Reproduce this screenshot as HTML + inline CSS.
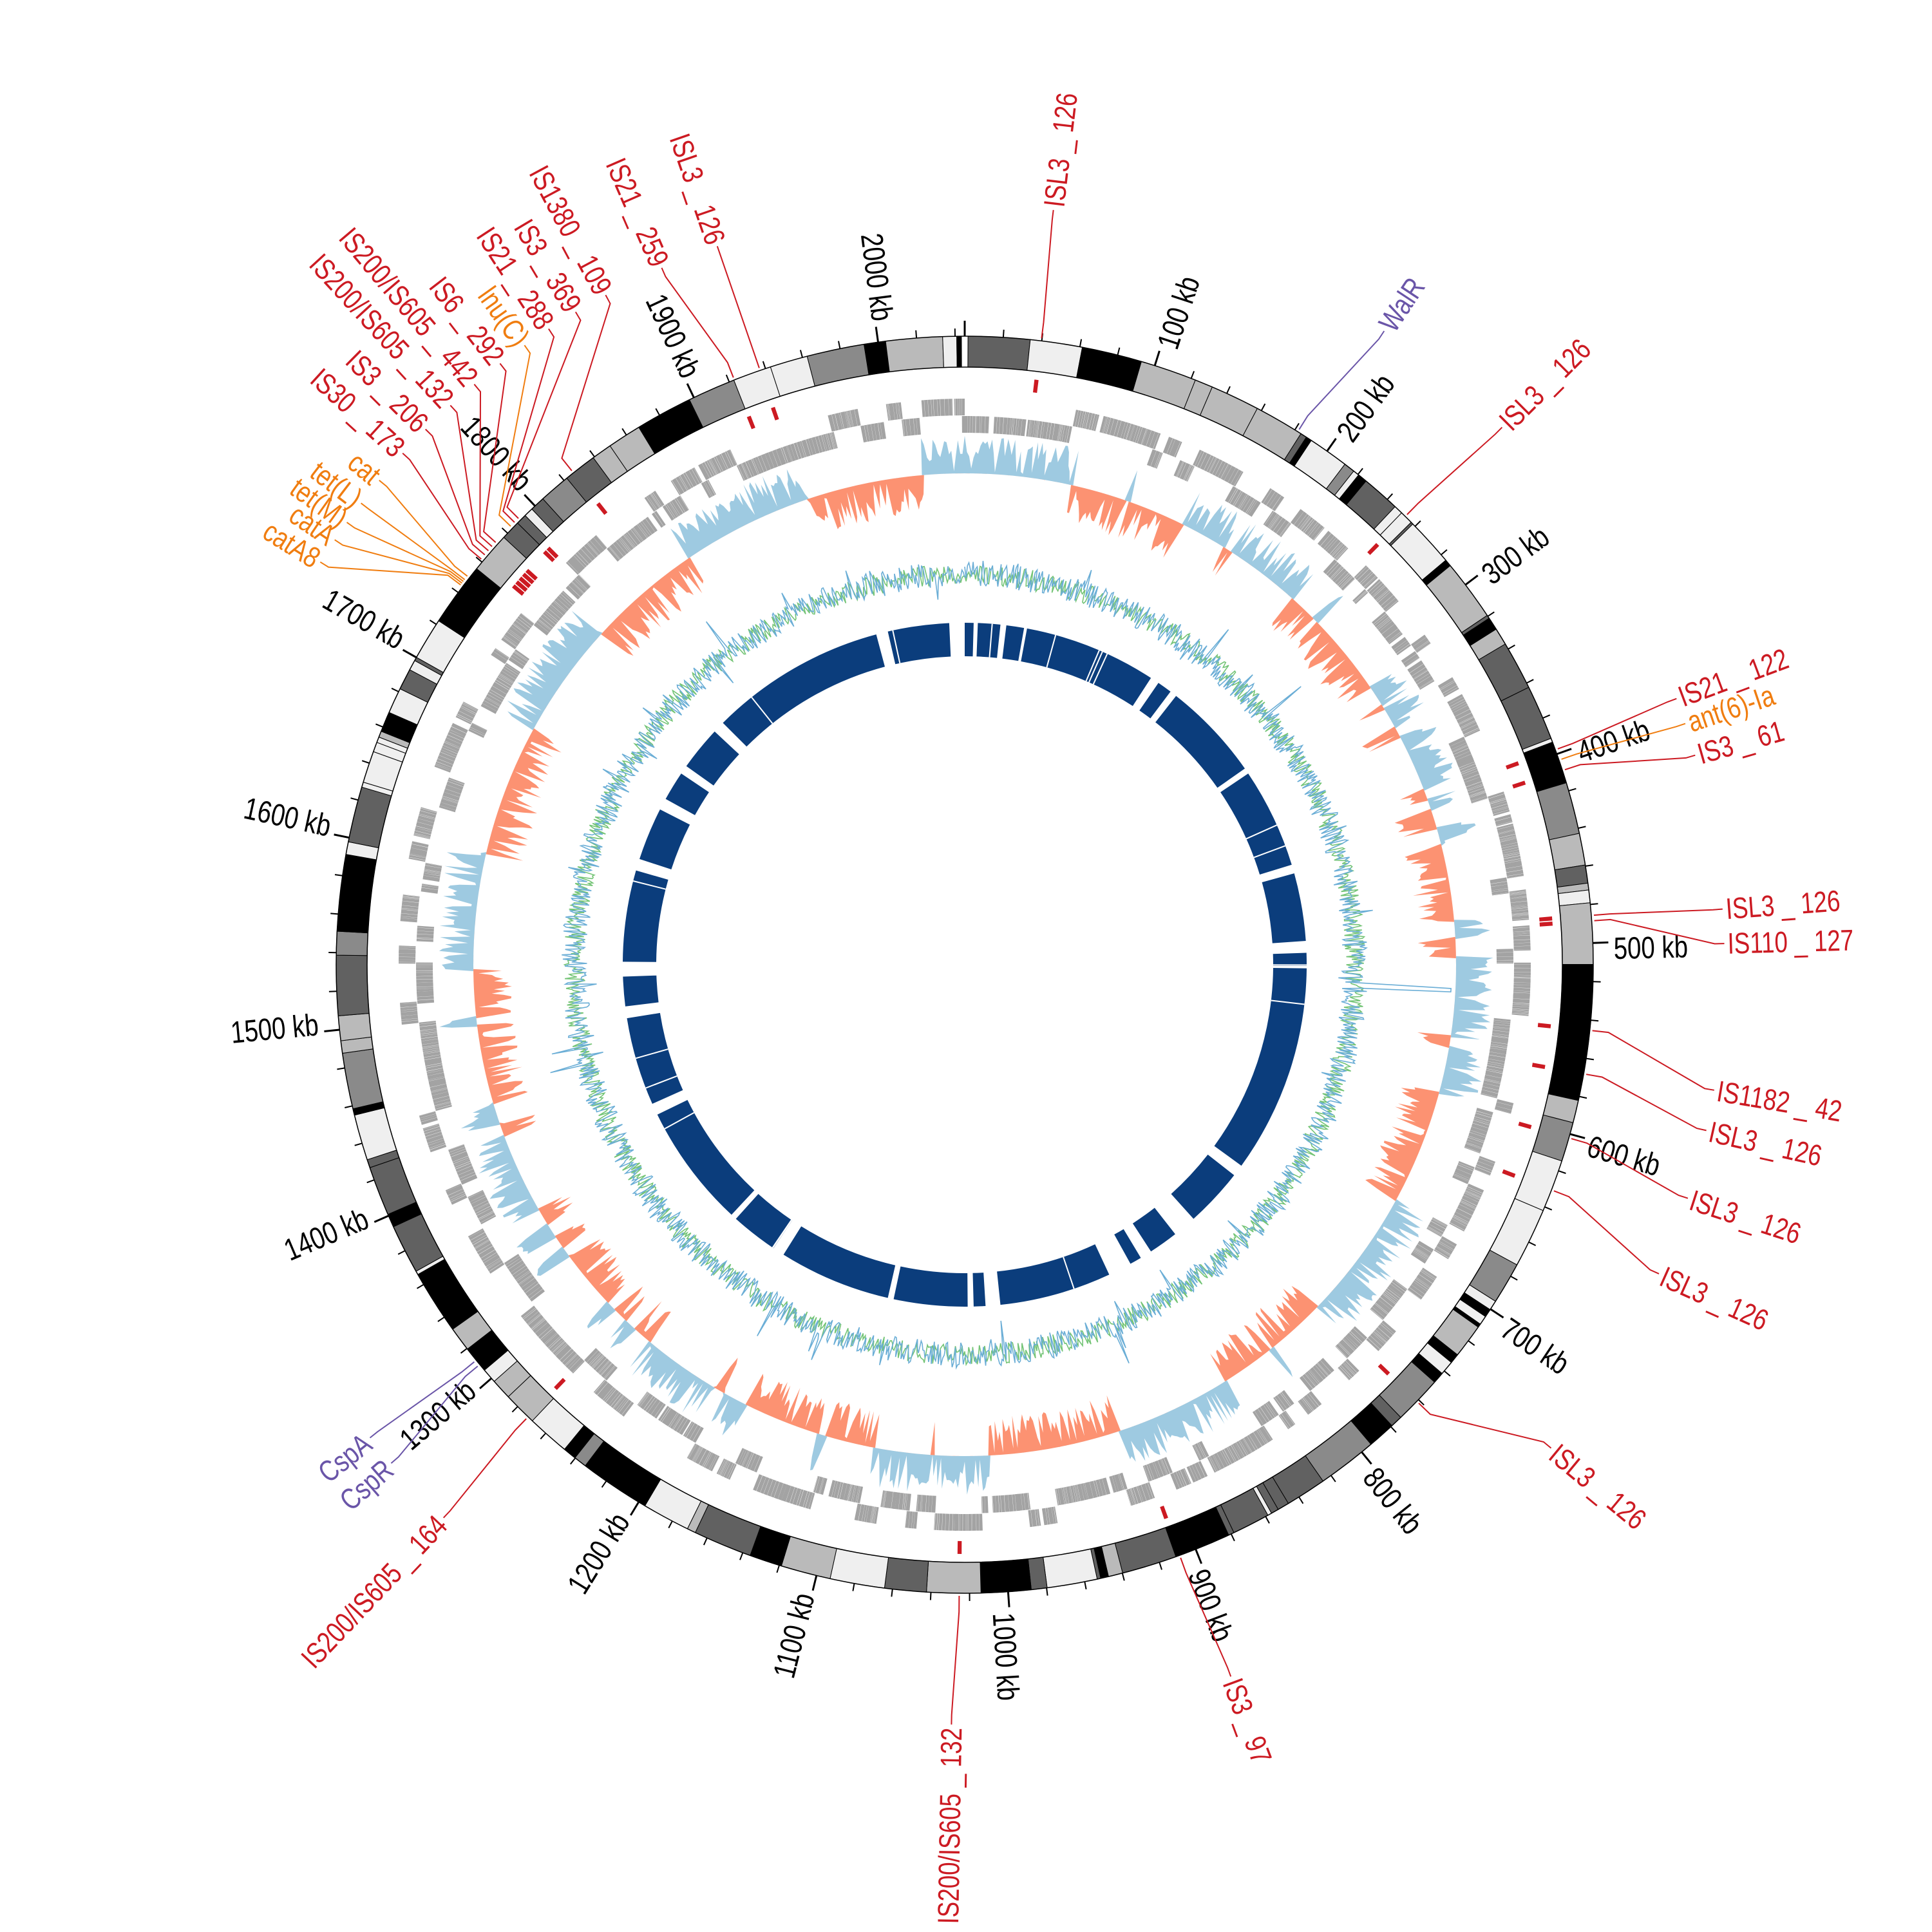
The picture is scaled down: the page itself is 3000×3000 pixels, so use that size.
<!DOCTYPE html>
<html><head><meta charset="utf-8">
<style>
html,body{margin:0;padding:0;background:#fff;}
svg{display:block;}
text{font-family:"Liberation Sans Narrow","Liberation Sans",sans-serif;}
</style></head>
<body>
<svg id="s" xmlns="http://www.w3.org/2000/svg" width="3000" height="3000" viewBox="0 0 3000 3000"></svg>
<script>
(function(){
var C=1498, T=2045;
var s=document.getElementById('s');
var out=[];
var seed=12345;
function rnd(){seed|=0;seed=seed+0x6D2B79F5|0;var t=Math.imul(seed^seed>>>15,1|seed);t=t+Math.imul(t^t>>>7,61|t)^t;return((t^t>>>14)>>>0)/4294967296;}
function P(r,a){var t=a*Math.PI/180;return [(C+r*Math.sin(t)).toFixed(1),(C-r*Math.cos(t)).toFixed(1)];}
function arc(r1,r2,a1,a2,fill,stroke,sw){
 var p1=P(r2,a1),p2=P(r2,a2),p3=P(r1,a2),p4=P(r1,a1);var lg=(a2-a1)>180?1:0;
 out.push('<path d="M'+p1+'A'+r2+','+r2+' 0 '+lg+' 1 '+p2+'L'+p3+'A'+r1+','+r1+' 0 '+lg+' 0 '+p4+'Z" fill="'+fill+'"'+(stroke?' stroke="'+stroke+'" stroke-width="'+sw+'"':'')+'/>');
}
function kb(k){return k/T*360;}
// ideogram
var shades=['#000','#616161','#bababa','#efefef','#616161','#bababa','#efefef','#8a8a8a','#000'];
var a=0.3;
while(a<359.7){var w=0.3+rnd()*5.5; if(rnd()<0.3) w=0.2+rnd()*1.2; var e=Math.min(a+w,359.7);
 arc(928,976,a,e,shades[Math.floor(rnd()*shades.length)],'#000',1); a=e;}
out.push('<circle cx="'+C+'" cy="'+C+'" r="976" fill="none" stroke="#000" stroke-width="1.5"/>');
out.push('<circle cx="'+C+'" cy="'+C+'" r="928" fill="none" stroke="#000" stroke-width="1.5"/>');
// ticks
for(var k=0;k<T;k+=20){var ang=kb(k);var maj=(k%100==0);var p1=P(976,ang),p2=P(maj?1000:988,ang);
 out.push('<line x1="'+p1[0]+'" y1="'+p1[1]+'" x2="'+p2[0]+'" y2="'+p2[1]+'" stroke="#000" stroke-width="'+(maj?3:2)+'"/>');}
function rtext(str,r,ang,color,fs){
 var p=P(r,ang);var rot,anc;
 if(ang<180){rot=ang-90;anc='start';}else{rot=ang+90;anc='end';}
 out.push('<text x="0" y="0" transform="translate('+p[0]+' '+p[1]+') rotate('+rot.toFixed(2)+') scale(0.8,1)" text-anchor="'+anc+'" dominant-baseline="central" font-size="'+fs+'" fill="'+color+'">'+str+'</text>');
}
for(var k=100;k<T;k+=100){rtext(k+' kb',1008,kb(k)+0.6,'#000',48);}
// genes: clusters of thin lines
function lanes(){var a=0;
 while(a<360){var cl=0.4+rnd()*3;var lane=rnd()<0.5?0:1;var r1=lane?853:826,r2=lane?879:852;
  var e=Math.min(a+cl,360);var b=a;var d='';
  while(b<e){var w=0.08+rnd()*0.35;var bb=Math.min(b+w,e);
   var p1=P(r2,b),p2=P(r2,bb),p3=P(r1,bb),p4=P(r1,b);d+='M'+p1+'L'+p2+'L'+p3+'L'+p4+'Z';b=bb+0.012+rnd()*0.015;}
  out.push('<path d="'+d+'" fill="#a3a3a3"/>');
  a=e+(rnd()<0.7?-0.3*rnd():rnd()*0.6);}
}
lanes();
// skew
var N=1440,vals=[];
for(var i=0;i<N;i++){var ang=i/N*360;var sgn=Math.sin(ang*0.21+0.4)+0.6*Math.sin(ang*0.67+1.3)+0.4*Math.sin(ang*1.7);
 var base=(sgn>0?1:-1);var amp=0.3+0.7*Math.pow(rnd(),0.8);if(rnd()<0.15)amp*=0.15;vals.push(base*amp);}
function areaPath(pos){var d='';for(var i=0;i<=N;i++){var v=vals[i%N];var ang=i/N*360;var vv=pos?Math.max(v,0):Math.min(v,0);var p=P(763+vv*60,ang);d+=(i?'L':'M')+p[0]+','+p[1];}
 var p0=P(763,0);d+='L'+p0+'A763,763 0 1 0 '+P(763,180)+'A763,763 0 1 0 '+p0+'Z';return d;}
out.push('<path d="'+areaPath(true)+'" fill="#9ecae1" fill-rule="evenodd"/>');
out.push('<path d="'+areaPath(false)+'" fill="#fc9272" fill-rule="evenodd"/>');
// GC lines
var M=1800,g='',bl='';
for(var i=0;i<=M;i++){var ang=i/M*360;var n1=(rnd()-0.5)*32,n2=(rnd()-0.5)*40;if(rnd()<0.04)n2+=(rnd()-0.4)*90;
 if(Math.abs(ang-93)<0.3)n2=150;
 var p=P(606+n1,ang),q=P(606+n2,ang);g+=(i?'L':'M')+p[0]+','+p[1];bl+=(i?'L':'M')+q[0]+','+q[1];}
out.push('<path d="'+g+'" fill="none" stroke="#74c476" stroke-width="1.6"/>');
out.push('<path d="'+bl+'" fill="none" stroke="#6baed6" stroke-width="1.6"/>');
// inner blocks
var gaps=[[-2.6,0],[1.5,2.2],[6,7],[10,10.5],[33,34.5],[37,38],[55,56],[73,74.5],[86,88],[90.2,90.6],[126,128],[138,142],[147,149],[151,155],[174,176.5],[178.5,179.5],[192,193],[212,214],[222,223],[244,246],[261,263],[268,270.5],[286,288],[297,299],[304,305.5],[313,315],[345,347]];
var segs=[];gaps.sort(function(x,y){return x[0]-y[0];});
var st=0;for(var j=0;j<gaps.length;j++){var g0=gaps[j][0],g1=gaps[j][1];if(g0<0){st=g1;continue;}segs.push([st,g0]);st=g1;}segs.push([st,357.4]);
segs.forEach(function(sg){arc(479,531,sg[0],sg[1],'#0b3d7c');});
for(var j=0;j<25;j++){var an=rnd()*360;var p1=P(479,an),p2=P(531,an);out.push('<line x1="'+p1[0]+'" y1="'+p1[1]+'" x2="'+p2[0]+'" y2="'+p2[1]+'" stroke="#fff" stroke-width="2"/>');}
// labels
var R='#cc1a22',O='#f07d10',U='#6a55a8';
var labs=[
['ISL3_126',7,6.7,R],['WalR',32,33.5,U],['ISL3_126',44.5,45,R],['IS21_122',70,69.5,R],['ant(6)-Ia',71,71.5,O],['IS3_61',72,74,R],
['ISL3_126',85.5,85.8,R],['IS110_127',86,88.4,R],['IS1182_42',96,99.5,R],['ISL3_126',100,102.6,R],['ISL3_126',106,107.9,R],['ISL3_126',111,114,R],
['ISL3_126',134,129.5,R],['IS3_97',160,159.5,R],['IS200/IS605_132',180.5,181,R],['CspA',231,231.5,U],['CspR',230.5,229,U],['IS200/IS605_164',224,223.3,R],
['catA8',307,302,O],['catA',307.2,304,O],['tet(M)',307.4,305.6,O],['tet(L)',307.6,307.4,O],['cat',308,309.6,O],['IS30_173',310,312.3,R],['IS3_206',310.5,314.8,R],
['IS200/IS605_132',311,317.4,R],['IS200/IS605_442',311.5,319.8,R],['IS6_292',312,322.3,R],['lnu(C)',314,324.6,O],['IS21_288',314.5,326.8,R],['IS3_369',315,329.2,R],
['IS1380_109',321.5,331.8,R],['IS21_259',338.5,336.5,R],['ISL3_126',341,341,R]];
labs.forEach(function(l){var p1=P(980,l[1]),p2=P(1005,l[1]),p3=P(1165,l[2]),p4=P(1180,l[2]);
 out.push('<polyline points="'+p1+' '+p2+' '+p3+' '+p4+'" fill="none" stroke="'+l[3]+'" stroke-width="2"/>');
 rtext(l[0].replace('_',' _ '),1185,l[2],l[3],46);});
labs.forEach(function(l){if(l[3]==R)arc(895,915,l[1]-0.2,l[1]+0.2,R);});
s.innerHTML=out.join('');
})();
</script>
</body></html>
